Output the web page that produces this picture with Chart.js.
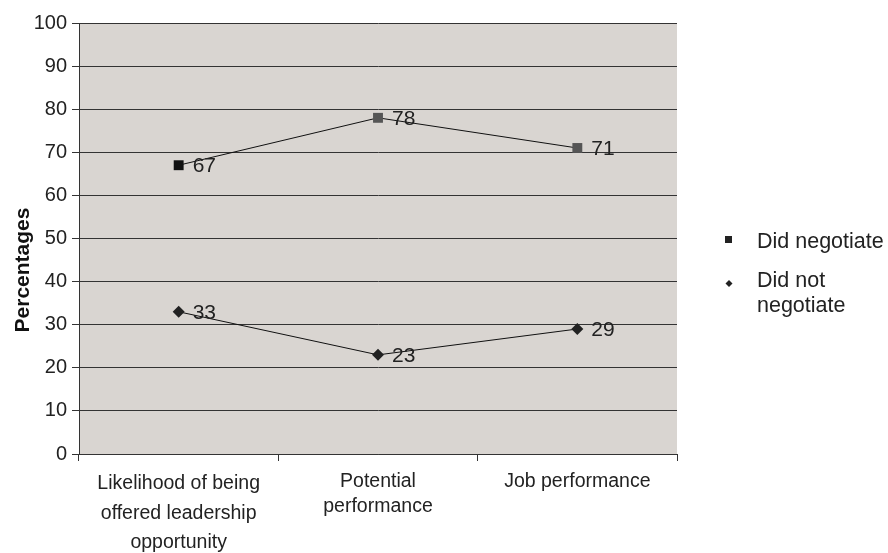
<!DOCTYPE html>
<html>
<head>
<meta charset="utf-8">
<script src="https://cdn.jsdelivr.net/npm/chart.js@4"></script>
<style>
  body { margin: 0; background: #fff; }
  #wrap { width: 888px; height: 553px; }
</style>
</head>
<body>
<div id="wrap"><canvas id="myChart"></canvas></div>
<script>
const categories = [
  ['Likelihood of being', 'offered leadership', 'opportunity'],
  ['Potential', 'performance'],
  'Job performance'
];
const didNegotiate = [67, 78, 71];
const didNotNegotiate = [33, 23, 29];
const seriesNames = ['Did negotiate', ['Did not', 'negotiate']];
const yTitle = 'Percentages';
const yTicks = [0, 100, 10];

const FONT = 'Liberation Sans, Arial, sans-serif';

// grey plot background
const plotBg = {
  id: 'plotBg',
  beforeDraw(chart) {
    const a = chart.chartArea;
    const ctx = chart.ctx;
    ctx.save();
    ctx.fillStyle = '#d9d5d1';
    ctx.fillRect(a.left, a.top, a.right - a.left, a.bottom - a.top);
    ctx.restore();
  }
};

// values next to each point
const valueLabels = {
  id: 'valueLabels',
  afterDatasetsDraw(chart) {
    const ctx = chart.ctx;
    ctx.save();
    ctx.font = '21px ' + FONT;
    ctx.fillStyle = '#222';
    ctx.textAlign = 'left';
    ctx.textBaseline = 'middle';
    chart.data.datasets.forEach((ds, i) => {
      chart.getDatasetMeta(i).data.forEach((pt, j) => {
        ctx.fillText(ds.data[j], pt.x + 14, pt.y + 1);
      });
    });
    ctx.restore();
  }
};

// y title (sits below the middle in the original) + legend on the right
const sideLegend = {
  id: 'sideLegend',
  afterDraw(chart) {
    const ctx = chart.ctx;
    ctx.save();
    ctx.fillStyle = '#111';
    ctx.font = 'bold 21px ' + FONT;
    ctx.textAlign = 'center';
    ctx.textBaseline = 'middle';
    ctx.translate(23, 270);
    ctx.rotate(-Math.PI / 2);
    ctx.fillText(yTitle, 0, 0);
    ctx.restore();

    ctx.save();
    ctx.font = '21.5px ' + FONT;
    ctx.fillStyle = '#222';
    ctx.textAlign = 'left';
    ctx.textBaseline = 'alphabetic';
    // square
    ctx.fillRect(725, 236, 7, 7);
    ctx.fillText(seriesNames[0], 757, 248);
    // diamond
    ctx.beginPath();
    ctx.moveTo(729, 280);
    ctx.lineTo(732.5, 283.5);
    ctx.lineTo(729, 287);
    ctx.lineTo(725.5, 283.5);
    ctx.closePath();
    ctx.fill();
    seriesNames[1].forEach((t, k) => ctx.fillText(t, 757, 287 + k * 25));
    ctx.restore();
  }
};

new Chart(document.getElementById('myChart'), {
  type: 'line',
  data: {
    labels: categories,
    datasets: [
      {
        label: 'Did negotiate',
        data: didNegotiate,
        borderColor: '#111',
        borderWidth: 1,
        pointStyle: 'rect',
        pointRadius: 7,
        pointBackgroundColor: ['#111', '#555', '#555'],
        pointBorderColor: ['#111', '#555', '#555'],
        pointBorderWidth: 0
      },
      {
        label: 'Did not negotiate',
        data: didNotNegotiate,
        borderColor: '#111',
        borderWidth: 1,
        pointStyle: 'rectRot',
        pointRadius: 6,
        pointBackgroundColor: '#222',
        pointBorderColor: '#222',
        pointBorderWidth: 0
      }
    ]
  },
  options: {
    responsive: true,
    maintainAspectRatio: false,
    animation: false,
    layout: { padding: { top: 23, right: 211, left: 0, bottom: 0 } },
    plugins: {
      legend: { display: false },
      tooltip: { enabled: false }
    },
    scales: {
      x: {
        offset: true,
        grid: {
          offset: true,
          drawOnChartArea: false,
          tickLength: 7,
          color: '#333'
        },
        border: { color: '#333', width: 1 },
        ticks: {
          color: '#222',
          font: (c) => ({ family: FONT, size: 19.5, lineHeight: c.index === 0 ? 1.52 : 1.28 }),
          padding: 8,
          maxRotation: 0
        },
        afterFit(scale) { scale.height = 99; }
      },
      y: {
        min: yTicks[0],
        max: yTicks[1],
        ticks: {
          stepSize: yTicks[2],
          color: '#222',
          font: { family: FONT, size: 20 },
          padding: 5
        },
        grid: { color: '#333', tickLength: 7 },
        border: { color: '#333', width: 1 },
        afterFit(scale) { scale.width = 79; }
      }
    }
  },
  plugins: [plotBg, valueLabels, sideLegend]
});
</script>
</body>
</html>
